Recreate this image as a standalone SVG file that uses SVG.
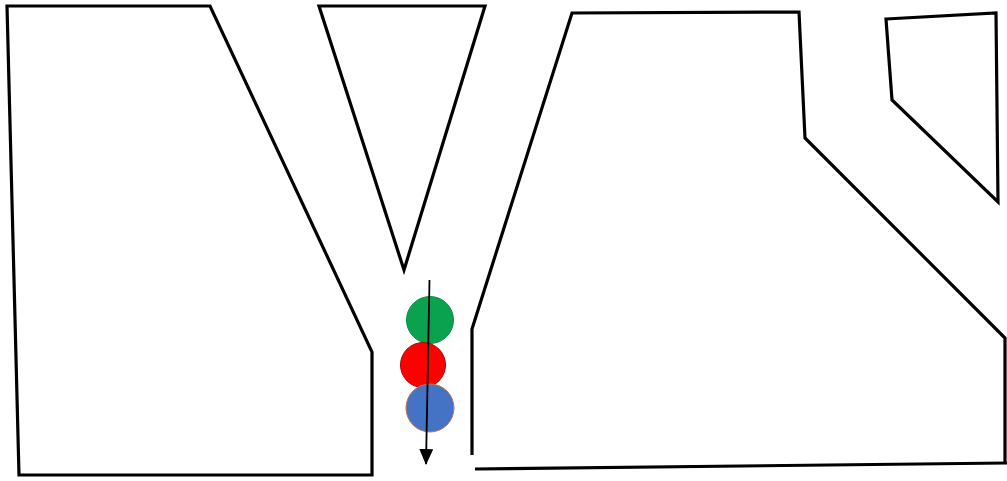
<svg xmlns="http://www.w3.org/2000/svg" width="1007" height="481" viewBox="0 0 1007 481">
<defs>
<style>
.wall{fill:none;stroke:#000;stroke-width:3.2;stroke-linejoin:miter}
</style>
<marker id="ah" viewBox="0 0 16 14" refX="15" refY="7" markerWidth="16" markerHeight="14" orient="auto" markerUnits="userSpaceOnUse">
<path d="M0,0 L16,7 L0,14 z" fill="#000"/>
</marker>
</defs>
<rect width="1007" height="481" fill="#fff"/>
<g id="left-block"><polygon class="wall" points="7,6 210,6 372,352 372,475 19,475"/></g>
<g id="triangle"><polygon class="wall" points="319,6 485,6 404,270"/></g>
<g id="right-block">
<polyline class="wall" points="472,455 472,329 572,13 799,12 805,138 1005,338 1005,463"/>
<line class="wall" x1="475" y1="469" x2="1007" y2="463"/>
</g>
<g id="small-block"><polygon class="wall" points="886,19 996,13 998,202 892,100"/></g>
<g id="balls">
<circle cx="430" cy="320" r="23.5" fill="#0AA24F" stroke="#0A8F45" stroke-width="1"/>
<circle cx="423" cy="365" r="22.5" fill="#FF0000" stroke="#B00000" stroke-width="1"/>
<circle cx="430" cy="408" r="24" fill="#4472C4" stroke="#C0764A" stroke-width="1"/>
</g>
<g id="connectors">
<line x1="429.5" y1="280" x2="426" y2="464" stroke="#000" stroke-width="1.8" marker-end="url(#ah)"/>
</g>
</svg>
